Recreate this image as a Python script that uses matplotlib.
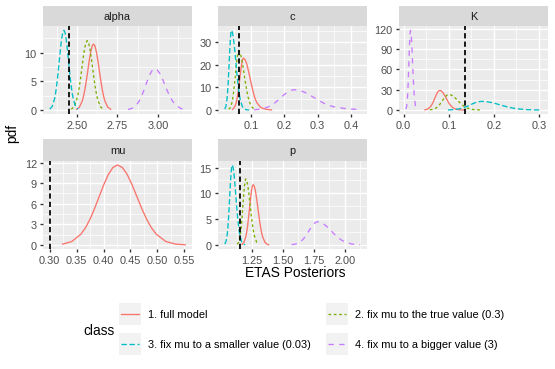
import matplotlib
matplotlib.use("Agg")
import matplotlib.pyplot as plt
from matplotlib.lines import Line2D
from matplotlib.patches import Rectangle

plt.rcParams["font.family"] = ["Liberation Sans", "DejaVu Sans"]

# ---- data ----
classes = ["1. full model", "2. fix mu to the true value (0.3)",
           "3. fix mu to a smaller value (0.03)", "4. fix mu to a bigger value (3)"]
colors = ["#F8766D", "#7CAE00", "#00BFC4", "#C77CFF"]
dashes = [None, (2, 2), (4, 2), (4, 4)]

# alpha
alpha_full_x = [2.498, 2.5155, 2.533, 2.5417, 2.5505, 2.5592, 2.568, 2.5767, 2.5855, 2.5942, 2.603,
                2.6117, 2.6205, 2.6292, 2.638, 2.6467, 2.6555, 2.6642, 2.673, 2.6905, 2.708]
alpha_full_y = [0.13, 0.50, 1.56, 2.49, 3.73, 5.26, 6.97, 8.68, 10.15, 11.15, 11.5,
                11.15, 10.15, 8.68, 6.97, 5.26, 3.73, 2.49, 1.56, 0.50, 0.13]
alpha_true_x = [2.465, 2.4815, 2.498, 2.5063, 2.5145, 2.5228, 2.531, 2.5393, 2.5475, 2.5558, 2.564,
                2.5723, 2.5805, 2.5888, 2.597, 2.6053, 2.6135, 2.6218, 2.630, 2.6465, 2.663]
alpha_true_y = [0.13, 0.53, 1.64, 2.62, 3.93, 5.54, 7.34, 9.13, 10.68, 11.73, 12.1,
                11.73, 10.68, 9.13, 7.34, 5.54, 3.93, 2.62, 1.64, 0.53, 0.13]
alpha_small_x = [2.333, 2.3475, 2.362, 2.3693, 2.3765, 2.3838, 2.391, 2.3983, 2.4055, 2.4128, 2.420,
                 2.4273, 2.4345, 2.4418, 2.449, 2.4563, 2.4635, 2.4708, 2.478, 2.4925, 2.507]
alpha_small_y = [0.15, 0.61, 1.88, 3.01, 4.51, 6.36, 8.43, 10.49, 12.27, 13.47, 13.9,
                 13.47, 12.27, 10.49, 8.43, 6.36, 4.51, 3.01, 1.88, 0.61, 0.15]
alpha_big_x = [2.815, 2.8425, 2.870, 2.8838, 2.8975, 2.9113, 2.925, 2.9388, 2.9525, 2.9663, 2.980,
               2.9957, 3.0114, 3.027, 3.0427, 3.0584, 3.0741, 3.0897, 3.1054, 3.1368, 3.168]
alpha_big_y = [0.08, 0.32, 0.97, 1.56, 2.34, 3.30, 4.37, 5.43, 6.35, 6.98, 7.2,
               6.98, 6.35, 5.43, 4.37, 3.30, 2.34, 1.56, 0.97, 0.32, 0.08]

# c
c_full_x = [0.045, 0.0505, 0.056, 0.0588, 0.0615, 0.0643, 0.067, 0.0698, 0.0725, 0.0753, 0.078,
            0.083, 0.088, 0.093, 0.098, 0.103, 0.108, 0.113, 0.118, 0.128, 0.138, 0.150, 0.162]
c_full_y = [0.26, 1.01, 3.11, 4.97, 7.47, 10.53, 13.95, 17.36, 20.30, 22.29, 23.0,
            22.29, 20.30, 17.36, 13.95, 10.53, 7.47, 4.97, 3.3, 1.4, 0.6, 0.2, 0.05]
c_true_x = [0.034, 0.039, 0.044, 0.0465, 0.049, 0.0515, 0.054, 0.0565, 0.059, 0.0615, 0.064,
            0.068, 0.072, 0.076, 0.080, 0.084, 0.088, 0.092, 0.096, 0.104, 0.112]
c_true_y = [0.29, 1.15, 3.54, 5.67, 8.51, 11.99, 15.89, 19.78, 23.12, 25.39, 26.2,
            25.39, 23.12, 19.78, 15.89, 11.99, 8.51, 5.67, 3.54, 1.15, 0.29]
c_small_x = [0.022, 0.0253, 0.0286, 0.0303, 0.032, 0.0336, 0.0353, 0.037, 0.0387, 0.0403, 0.042,
             0.0453, 0.0485, 0.0518, 0.055, 0.0583, 0.0615, 0.0648, 0.068, 0.0745, 0.081, 0.088, 0.095]
c_small_y = [0.39, 1.55, 4.78, 7.64, 11.46, 16.16, 21.41, 26.64, 31.15, 34.21, 35.3,
             34.21, 31.15, 26.64, 21.41, 16.16, 11.46, 7.64, 4.78, 1.55, 0.39, 0.08, 0.01]
c_big_x = [0.11, 0.13, 0.15, 0.16, 0.17, 0.18, 0.19, 0.20, 0.21, 0.22, 0.23,
           0.245, 0.26, 0.275, 0.29, 0.305, 0.32, 0.335, 0.35, 0.38, 0.41, 0.428]
c_big_y = [0.10, 0.40, 1.22, 1.95, 2.92, 4.12, 5.46, 6.79, 7.94, 8.72, 9.0,
           8.72, 7.94, 6.79, 5.46, 4.12, 2.92, 1.95, 1.4, 0.7, 0.35, 0.2]

# K
k_full_x = [0.047, 0.0525, 0.058, 0.0608, 0.0635, 0.0663, 0.069, 0.0718, 0.0745, 0.0773, 0.080,
            0.0835, 0.087, 0.0905, 0.094, 0.0975, 0.101, 0.1045, 0.108, 0.115, 0.122, 0.136]
k_full_y = [0.32, 1.27, 3.92, 6.27, 9.42, 13.28, 17.59, 21.89, 25.59, 28.11, 29.0,
            28.11, 25.59, 21.89, 17.59, 13.28, 9.42, 6.27, 3.92, 1.27, 0.32, 0.02]
k_true_x = [0.058, 0.065, 0.072, 0.0755, 0.079, 0.0825, 0.086, 0.0895, 0.093, 0.0965, 0.100,
            0.105, 0.110, 0.115, 0.120, 0.125, 0.130, 0.135, 0.140, 0.150, 0.160, 0.172]
k_true_y = [0.26, 1.01, 3.11, 4.97, 7.47, 10.53, 13.95, 17.36, 20.30, 22.29, 23.0,
            22.29, 20.30, 17.36, 13.95, 10.53, 7.47, 4.97, 3.11, 1.01, 0.26, 0.05]
k_small_x = [0.098, 0.1105, 0.123, 0.1293, 0.1355, 0.1418, 0.148, 0.1543, 0.1605, 0.1668, 0.173,
             0.183, 0.193, 0.203, 0.213, 0.223, 0.233, 0.243, 0.253, 0.273, 0.293, 0.305]
k_small_y = [0.14, 0.56, 1.73, 2.77, 4.16, 5.86, 7.76, 9.66, 11.30, 12.41, 12.8,
             12.41, 11.30, 9.66, 7.76, 5.86, 4.16, 2.77, 1.73, 0.56, 0.14, 0.05]
k_big_x = [0.0045, 0.0063, 0.008, 0.0089, 0.0098, 0.0106, 0.0115, 0.0124, 0.0133, 0.0141, 0.015,
           0.0161, 0.0173, 0.0184, 0.0195, 0.0206, 0.0218, 0.0229, 0.024, 0.0263, 0.0285]
k_big_y = [1.31, 5.18, 15.97, 25.52, 38.31, 54.02, 71.57, 89.07, 104.1, 114.4, 118.0,
           114.4, 104.1, 89.07, 71.57, 54.02, 38.31, 25.52, 15.97, 5.18, 1.31]

# mu (only the full model estimates mu)
mu_full_x = [0.324, 0.341, 0.358, 0.3665, 0.375, 0.3835, 0.392, 0.4005, 0.409, 0.4175, 0.426,
             0.435, 0.444, 0.453, 0.462, 0.471, 0.480, 0.489, 0.498, 0.516, 0.534, 0.552]
mu_full_y = [0.13, 0.51, 1.58, 2.52, 3.78, 5.33, 7.07, 8.79, 10.28, 11.29, 11.65,
             11.29, 10.28, 8.79, 7.07, 5.33, 3.78, 2.52, 1.58, 0.51, 0.13, 0.03]

# p
p_full_x = [1.17, 1.185, 1.20, 1.2075, 1.215, 1.2225, 1.23, 1.2375, 1.245, 1.2525, 1.26,
            1.2695, 1.279, 1.2885, 1.298, 1.3075, 1.317, 1.3265, 1.336, 1.355, 1.374, 1.384]
p_full_y = [0.13, 0.51, 1.58, 2.53, 3.80, 5.36, 7.10, 8.83, 10.33, 11.34, 11.7,
            11.34, 10.33, 8.83, 7.10, 5.36, 3.80, 2.53, 1.58, 0.51, 0.13, 0.05]
p_true_x = [1.131, 1.1425, 1.154, 1.1598, 1.1655, 1.1713, 1.177, 1.1828, 1.1885, 1.1943, 1.20,
            1.2088, 1.2175, 1.2263, 1.235, 1.2438, 1.2525, 1.2613, 1.27, 1.2875, 1.305]
p_true_y = [0.14, 0.56, 1.73, 2.77, 4.16, 5.86, 7.76, 9.66, 11.30, 12.41, 12.8,
            12.41, 11.30, 9.66, 7.76, 5.86, 4.16, 2.77, 1.73, 0.56, 0.14]
p_small_x = [1.03, 1.04, 1.05, 1.055, 1.06, 1.065, 1.07, 1.075, 1.08, 1.085, 1.09,
             1.0975, 1.105, 1.1125, 1.12, 1.1275, 1.135, 1.1425, 1.15, 1.165, 1.18, 1.195]
p_small_y = [0.17, 0.68, 2.10, 3.35, 5.03, 7.10, 9.40, 11.70, 13.68, 15.02, 15.5,
             15.02, 13.68, 11.70, 9.40, 7.10, 5.03, 3.35, 2.10, 0.68, 0.17, 0.04]
p_big_x = [1.57, 1.605, 1.64, 1.6575, 1.675, 1.6925, 1.71, 1.7275, 1.745, 1.7625, 1.78,
           1.8075, 1.835, 1.8625, 1.89, 1.9175, 1.945, 1.9725, 2.00, 2.055, 2.11, 2.125]
p_big_y = [0.05, 0.20, 0.61, 0.97, 1.46, 2.06, 2.73, 3.40, 3.97, 4.36, 4.5,
           4.36, 3.97, 3.40, 2.73, 2.06, 1.46, 0.97, 0.61, 0.20, 0.05, 0.03]

# true parameter values (dashed black lines)
true_values = {"alpha": 2.45, "c": 0.065, "K": 0.136, "mu": 0.30, "p": 1.15}

panels = [
    ("alpha", [(alpha_full_x, alpha_full_y), (alpha_true_x, alpha_true_y),
               (alpha_small_x, alpha_small_y), (alpha_big_x, alpha_big_y)],
     [2.5, 2.75, 3.0], "{:.2f}", [0, 5, 10]),
    ("c", [(c_full_x, c_full_y), (c_true_x, c_true_y),
           (c_small_x, c_small_y), (c_big_x, c_big_y)],
     [0.1, 0.2, 0.3, 0.4], "{:.1f}", [0, 10, 20, 30]),
    ("K", [(k_full_x, k_full_y), (k_true_x, k_true_y),
           (k_small_x, k_small_y), (k_big_x, k_big_y)],
     [0.0, 0.1, 0.2, 0.3], "{:.1f}", [0, 30, 60, 90, 120]),
    ("mu", [(mu_full_x, mu_full_y), None, None, None],
     [0.30, 0.35, 0.40, 0.45, 0.50, 0.55], "{:.2f}", [0, 3, 6, 9, 12]),
    ("p", [(p_full_x, p_full_y), (p_true_x, p_true_y),
           (p_small_x, p_small_y), (p_big_x, p_big_y)],
     [1.25, 1.5, 1.75, 2.0], "{:.2f}", [0, 5, 10, 15]),
]

# ---- layout (pixels of the 555x370 canvas) ----
W, H = 555, 370
DPI = 90
cols = [(43, 192), (218, 367), (399, 548)]
rows = [((7, 27.3), (27.3, 115)), ((140, 162), (162, 250))]


def rect(x0, y0, x1, y1):
    return [x0 / W, 1 - y1 / H, (x1 - x0) / W, (y1 - y0) / H]


def minor_breaks(major, lo, hi):
    step = major[1] - major[0]
    cand = [major[0] - step / 2] + [m + step / 2 for m in major]
    return [m for m in cand if lo <= m <= hi]


def padded(values):
    lo, hi = min(values), max(values)
    pad = (hi - lo) * 0.05
    return lo - pad, hi + pad


fig = plt.figure(figsize=(W / DPI, H / DPI), dpi=DPI)

for i, (name, series, xticks, fmt, yticks) in enumerate(panels):
    r, c = divmod(i, 3)
    (s0, s1), (p0, p1) = rows[r]
    x0, x1 = cols[c]

    strip = fig.add_axes(rect(x0, s0, x1, s1))
    strip.set_facecolor("#D9D9D9")
    strip.set_xticks([])
    strip.set_yticks([])
    for sp in strip.spines.values():
        sp.set_visible(False)
    strip.text(0.5, 0.5, name, ha="center", va="center", fontsize=8.8,
               color="#1A1A1A", transform=strip.transAxes)

    ax = fig.add_axes(rect(x0, p0, x1, p1))
    ax.set_facecolor("#EBEBEB")
    for sp in ax.spines.values():
        sp.set_visible(False)

    xs, ys = [true_values[name]], [0.0]
    for k, s in enumerate(series):
        if s is None:
            continue
        ln, = ax.plot(s[0], s[1], color=colors[k], lw=1.07, zorder=3)
        if dashes[k] is not None:
            ln.set_dashes(dashes[k])
        xs += s[0]
        ys += s[1]
    ax.axvline(true_values[name], color="black", lw=1.4, dashes=(3, 1.8), zorder=4)

    xlo, xhi = padded(xs)
    ylo, yhi = padded(ys)
    ax.set_xlim(xlo, xhi)
    ax.set_ylim(ylo, yhi)

    ax.set_xticks(xticks)
    ax.set_xticklabels([fmt.format(v) for v in xticks])
    ax.set_yticks(yticks)
    ax.set_yticklabels([str(v) for v in yticks])
    ax.set_xticks(minor_breaks(xticks, xlo, xhi), minor=True)
    ax.set_yticks(minor_breaks(yticks, ylo, yhi), minor=True)
    ax.grid(True, which="major", color="white", lw=1.07)
    ax.grid(True, which="minor", color="white", lw=0.53)
    ax.set_axisbelow(True)
    ax.tick_params(which="major", length=2.75, width=1.07, color="#333333",
                   labelsize=8.8, labelcolor="#4D4D4D", pad=2.2)
    ax.tick_params(which="minor", length=0)

fig.text(295.5 / W, 1 - 273 / H, "ETAS Posteriors", ha="center", va="center",
         fontsize=11)
fig.text(12 / W, 1 - 133 / H, "pdf", ha="center", va="center",
         rotation=90, fontsize=11)

# ---- legend ----
key_cols = [119, 326]
key_rows = [304, 334]
fig.text(83 / W, 1 - 331 / H, "class", ha="left", va="center", fontsize=11)
for k, lab in enumerate(classes):
    kx = key_cols[k % 2]
    ky = key_rows[k // 2]
    fig.add_artist(Rectangle((kx / W, 1 - (ky + 22) / H), 22 / W, 22 / H,
                             transform=fig.transFigure, facecolor="#F2F2F2",
                             edgecolor="none", zorder=1))
    ln = Line2D([(kx + 2) / W, (kx + 20) / W], [1 - (ky + 11) / H] * 2,
                transform=fig.transFigure, color=colors[k], lw=1.07, zorder=5)
    if dashes[k] is not None:
        ln.set_dashes(dashes[k])
    fig.add_artist(ln)
    fig.text((kx + 29) / W, 1 - (ky + 11) / H, lab, ha="left", va="center",
             fontsize=8.8)

fig.savefig("out.png", dpi=DPI)
